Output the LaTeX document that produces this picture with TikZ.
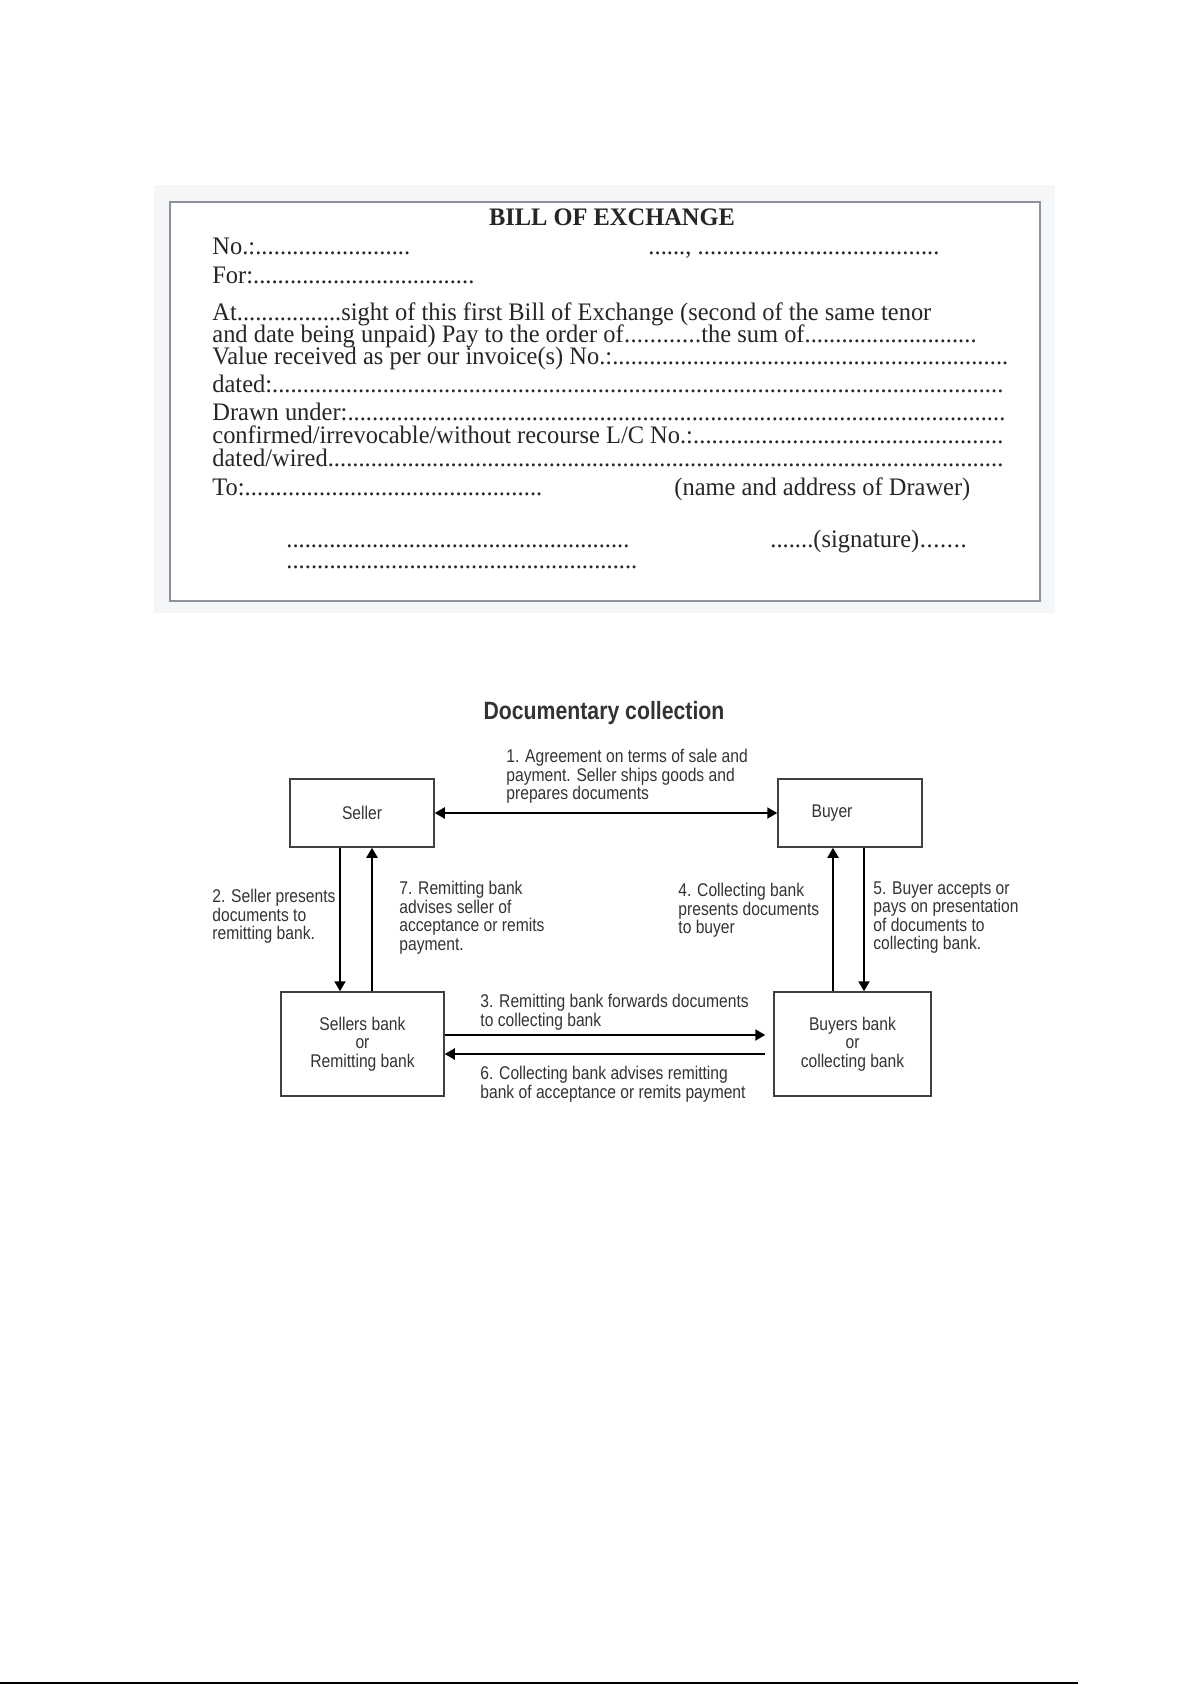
\documentclass[tikz,border=0pt]{standalone}
\usepackage{fontspec}
\usepackage{tikz}
\usetikzlibrary{arrows.meta}
\newfontfamily\billfont{Liberation Serif}[FakeStretch=0.97]
\newfontfamily\flowfont{Liberation Sans}[FakeStretch=0.85]
\definecolor{framegray}{HTML}{8E939B}
\definecolor{paper}{HTML}{F5F6F7}
\definecolor{ink}{HTML}{262626}
\definecolor{flowink}{HTML}{333333}
\tikzset{
  billline/.style={anchor=base west, inner sep=0pt, text=ink, font=\billfont\fontsize{12.6}{12.6}\selectfont},
  party/.style={draw=black!75, line width=0.75pt, align=center, inner sep=0pt, text=flowink, font=\flowfont\fontsize{9.2}{9.25}\selectfont},
  note/.style={anchor=north west, align=left, inner sep=0pt, text=flowink, font=\flowfont\fontsize{9.2}{9.25}\selectfont},
  oneway/.style={line width=1pt, -{Triangle[length=5pt,width=5.5pt]}},
  twoway/.style={line width=1pt, {Triangle[length=5pt,width=5.5pt]}-{Triangle[length=5pt,width=5.5pt]}}
}
% dotted blank of a given width
\newcommand{\fillto}[2]{\makebox[#1][l]{#2\xleaders\hbox{.}\hfill}}

\begin{document}
\begin{tikzpicture}[x=0.5pt,y=-0.5pt]
\useasboundingbox (0,0) rectangle (1192,1685);
% bill of exchange form
\fill[paper] (154,185) rectangle (1055,613);
\draw[framegray, line width=1pt, fill=white] (170,202) rectangle (1040,601);
\node[billline, anchor=base, font=\billfont\bfseries\fontsize{12.6}{12.6}\selectfont] (billtitle) at (612,226) {BILL OF EXCHANGE};
\node[billline] (no) at (212,255) {\fillto{99pt}{No.:}};
\node[billline] (place) at (648,255) {\fillto{18.5pt}{}, \fillto{121pt}{}};
\node[billline] (for) at (212,284) {\fillto{131pt}{For:}};
\node[billline] (at) at (212,320) {\fillto{64.5pt}{At}sight of this first Bill of Exchange (second of the same tenor};
\node[billline] (order) at (212,342) {\fillto{244.5pt}{and date being unpaid) Pay to the order of}the sum of\fillto{86pt}{}};
\node[billline] (value) at (212,364) {\fillto{398pt}{Value received as per our invoice(s) No.:}};
\node[billline] (dated) at (212,392) {\fillto{395.5pt}{dated:}};
\node[billline] (drawn) at (212,420) {\fillto{396.5pt}{Drawn under:}};
\node[billline] (lc) at (212,443) {\fillto{395.5pt}{confirmed/irrevocable/without recourse L/C No.:}};
\node[billline] (wired) at (212,466) {\fillto{395.5pt}{dated/wired}};
\node[billline] (to) at (212,495) {\fillto{165pt}{To:}};
\node[billline] (drawer) at (674,495) {(name and address of Drawer)};
\node[billline] (addr1) at (286,547) {\fillto{171.5pt}{}};
\node[billline] (sign) at (770,547) {\fillto{21.5pt}{}(signature)\fillto{24pt}{}};
\node[billline] (addr2) at (286,568) {\fillto{175.5pt}{}};
% documentary collection
\node[font=\flowfont\bfseries\fontsize{12.5}{12.5}\selectfont, text=flowink] (title) at (604,713) {Documentary collection};
\node[party, minimum width=72pt, minimum height=34pt] (seller) at (362,813) {Seller};
\node[party, minimum width=72pt, minimum height=34pt] (buyer) at (850,813) {Buyer\hspace{18pt}};
\node[party, minimum width=81.5pt, minimum height=52pt] (sbank) at (362.5,1044) {Sellers bank\\or\\Remitting bank};
\node[party, minimum width=78.5pt, minimum height=52pt] (bbank) at (852.5,1044) {Buyers bank\\or\\collecting bank};
\draw[twoway] (seller) -- (buyer);
\draw[oneway] ([xshift=-11pt]seller.south) -- ([xshift=-11pt]seller.south |- sbank.north);
\draw[oneway] ([xshift=5pt]seller.south |- sbank.north) -- ([xshift=5pt]seller.south);
\draw[oneway] ([xshift=-8.5pt]buyer.south |- bbank.north) -- ([xshift=-8.5pt]buyer.south);
\draw[oneway] ([xshift=7pt]buyer.south) -- ([xshift=7pt]buyer.south |- bbank.north);
\draw[oneway] ([yshift=4.5pt]sbank.east) -- ([yshift=4.5pt,xshift=-4pt]bbank.west);
\draw[oneway] ([yshift=-5pt,xshift=-4pt]bbank.west) -- ([yshift=-5pt]sbank.east);
\node[note] (step1) at (506,749) {1. Agreement on terms of sale and\\payment. Seller ships goods and\\prepares documents};
\node[note] (step2) at (212,889) {2. Seller presents\\documents to\\remitting bank.};
\node[note] (step7) at (399,881) {7. Remitting bank\\advises seller of\\acceptance or remits\\payment.};
\node[note] (step4) at (678,883) {4. Collecting bank\\presents documents\\to buyer};
\node[note] (step5) at (873,881) {5. Buyer accepts or\\pays on presentation\\of documents to\\collecting bank.};
\node[note] (step3) at (480,994) {3. Remitting bank forwards documents\\to collecting bank};
\node[note] (step6) at (480,1066) {6. Collecting bank advises remitting\\bank of acceptance or remits payment};
% page rule
\draw[line width=0.8pt] (0,1683) -- (1078,1683);
\end{tikzpicture}
\end{document}
